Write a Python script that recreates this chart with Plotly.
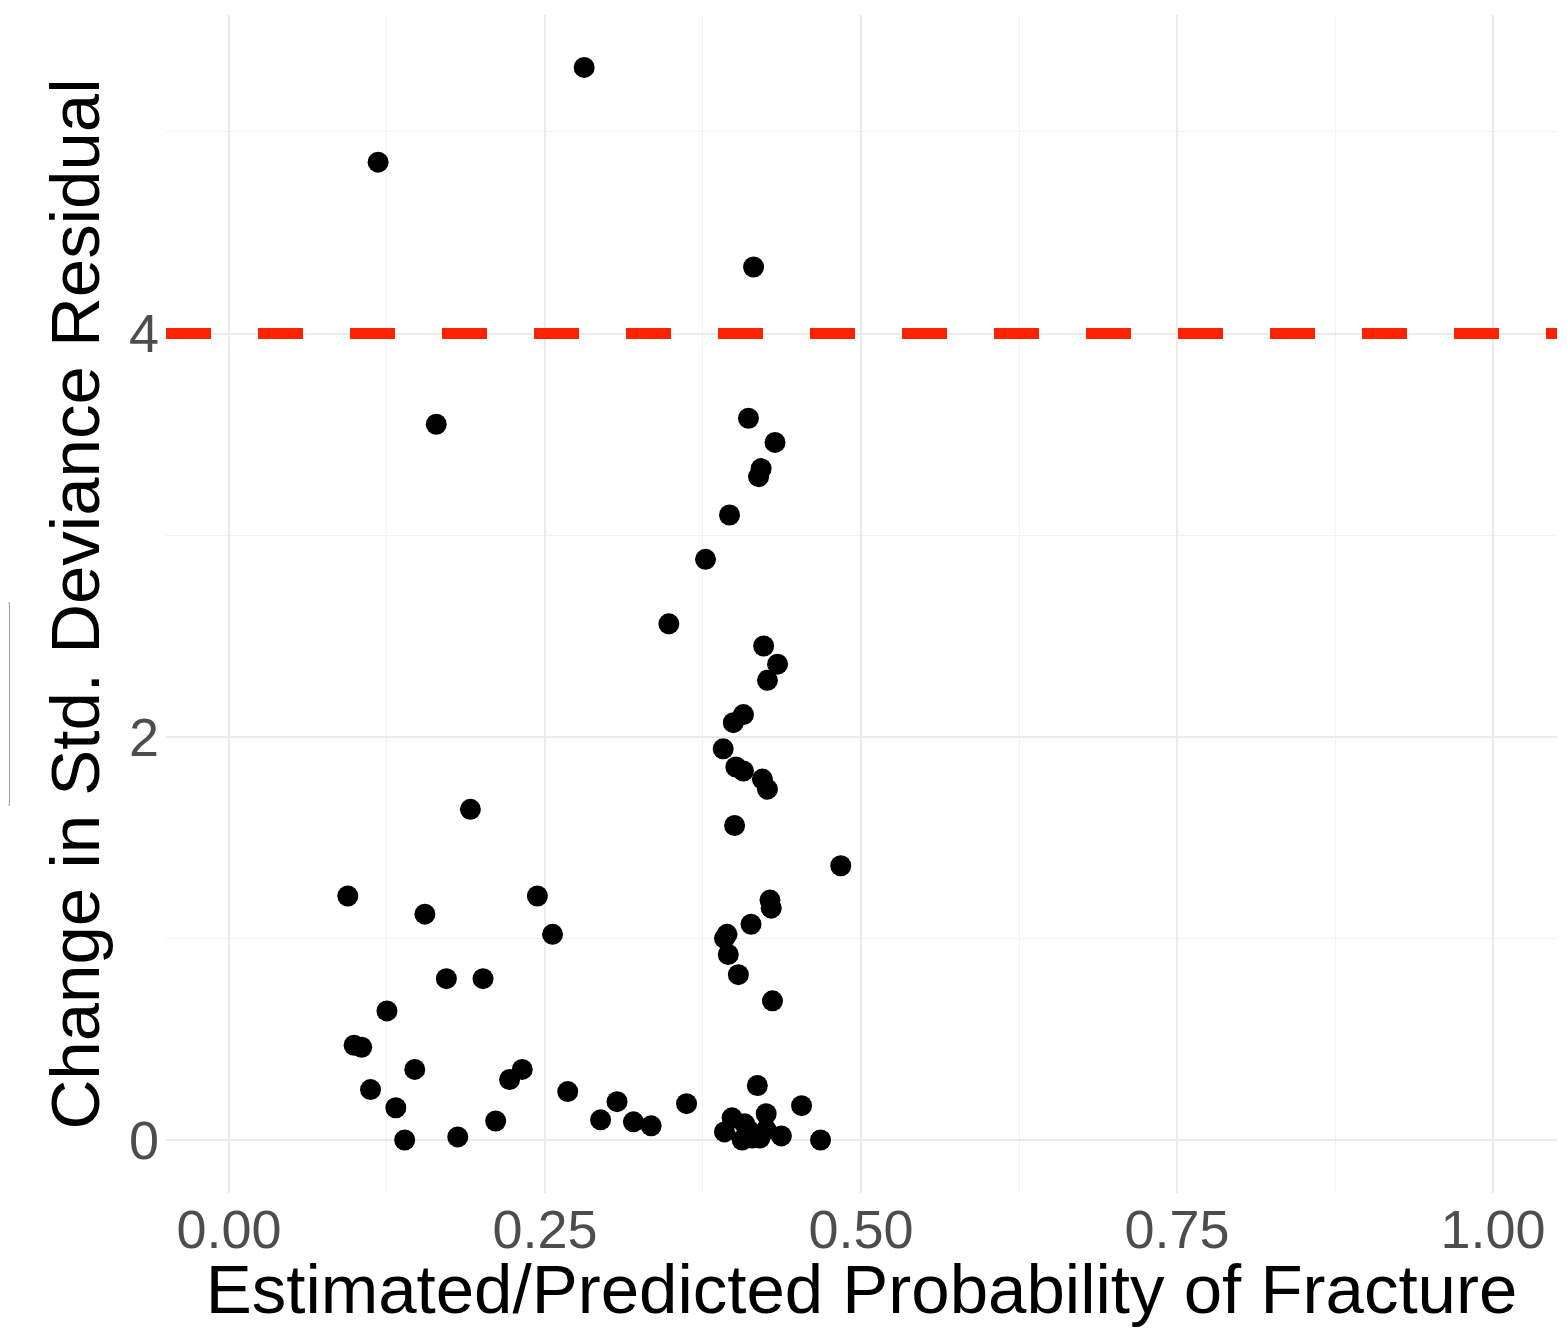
import plotly.graph_objects as go

# Estimated/predicted probability of fracture
prob = [0.281, 0.118, 0.415, 0.164, 0.411, 0.432, 0.421, 0.419, 0.396, 0.377,
        0.348, 0.423, 0.434, 0.426, 0.407, 0.399, 0.391, 0.401, 0.407, 0.422,
        0.426, 0.400, 0.484, 0.191, 0.094, 0.244, 0.155, 0.256, 0.428, 0.429,
        0.413, 0.394, 0.392, 0.395, 0.403, 0.430, 0.172, 0.201, 0.125, 0.099,
        0.105, 0.147, 0.112, 0.132, 0.139, 0.181, 0.211, 0.222, 0.232, 0.268,
        0.294, 0.307, 0.320, 0.334, 0.362, 0.418, 0.453, 0.425, 0.468, 0.437,
        0.398, 0.392, 0.408, 0.406, 0.414, 0.420, 0.411, 0.425]
# Change in standardized deviance residual
delta_dev = [5.32, 4.85, 4.33, 3.55, 3.58, 3.46, 3.33, 3.29, 3.10, 2.88,
             2.56, 2.45, 2.36, 2.28, 2.11, 2.07, 1.94, 1.85, 1.83, 1.79,
             1.74, 1.56, 1.36, 1.64, 1.21, 1.21, 1.12, 1.02, 1.19, 1.15,
             1.07, 1.02, 1.00, 0.92, 0.82, 0.69, 0.80, 0.80, 0.64, 0.47,
             0.46, 0.35, 0.25, 0.16, 0.00, 0.015, 0.094, 0.30, 0.35, 0.24,
             0.10, 0.19, 0.09, 0.07, 0.18, 0.27, 0.17, 0.13, 0.00, 0.02,
             0.11, 0.04, 0.08, 0.00, 0.01, 0.01, 0.05, 0.05]
threshold = 4

x_ticks = [0.0, 0.25, 0.5, 0.75, 1.0]
x_ticklabels = ["0.00", "0.25", "0.50", "0.75", "1.00"]
y_ticks = [0, 2, 4]
y_ticklabels = ["0", "2", "4"]

FONT = "Liberation Sans, Arial, Helvetica, sans-serif"

fig = go.Figure()
fig.add_trace(go.Scatter(
    x=prob, y=delta_dev, mode="markers",
    marker=dict(color="black", size=21, line=dict(width=0)),
    showlegend=False, hoverinfo="x+y"))

fig.add_hline(y=threshold, line=dict(color="#FF2200", width=11, dash="45px,47px"),
              layer="above")

# partially visible legend box at the far left edge
fig.add_shape(type="rect", xref="paper", yref="paper",
              x0=(-60 - 166) / 1391, x1=(9.5 - 166) / 1391,
              y0=(1193 - 805) / 1178, y1=(1193 - 603) / 1178,
              line=dict(color="#AAAAAA", width=1.2), fillcolor="rgba(0,0,0,0)")

fig.update_layout(
    width=1559, height=1320,
    margin=dict(l=158, r=10, t=7, b=135),
    paper_bgcolor="white", plot_bgcolor="white",
    font=dict(family=FONT),
    xaxis=dict(
        range=[-0.0498, 1.0506], tickvals=x_ticks, ticktext=x_ticklabels,
        showgrid=True, gridcolor="#EBEBEB", gridwidth=2.2,
        minor=dict(tick0=0, dtick=0.125, showgrid=True, gridcolor="#F2F2F2", gridwidth=1.1),
        zeroline=False, showline=False, ticks="",
        tickfont=dict(size=54, color="#4D4D4D"),
        title=dict(text="Estimated/Predicted Probability of Fracture",
                   font=dict(size=69, color="black"), standoff=0),
        automargin=False),
    yaxis=dict(
        range=[-0.263, 5.58], tickvals=y_ticks, ticktext=y_ticklabels,
        showgrid=True, gridcolor="#EBEBEB", gridwidth=2.2,
        minor=dict(tick0=0, dtick=1, showgrid=True, gridcolor="#F2F2F2", gridwidth=1.1),
        zeroline=False, showline=False, ticks="",
        tickfont=dict(size=54, color="#4D4D4D"), ticklabelstandoff=6,
        title=dict(text="Change in Std. Deviance Residual",
                   font=dict(size=69, color="black"), standoff=6),
        automargin=False),
)

fig.write_html("out.html")
